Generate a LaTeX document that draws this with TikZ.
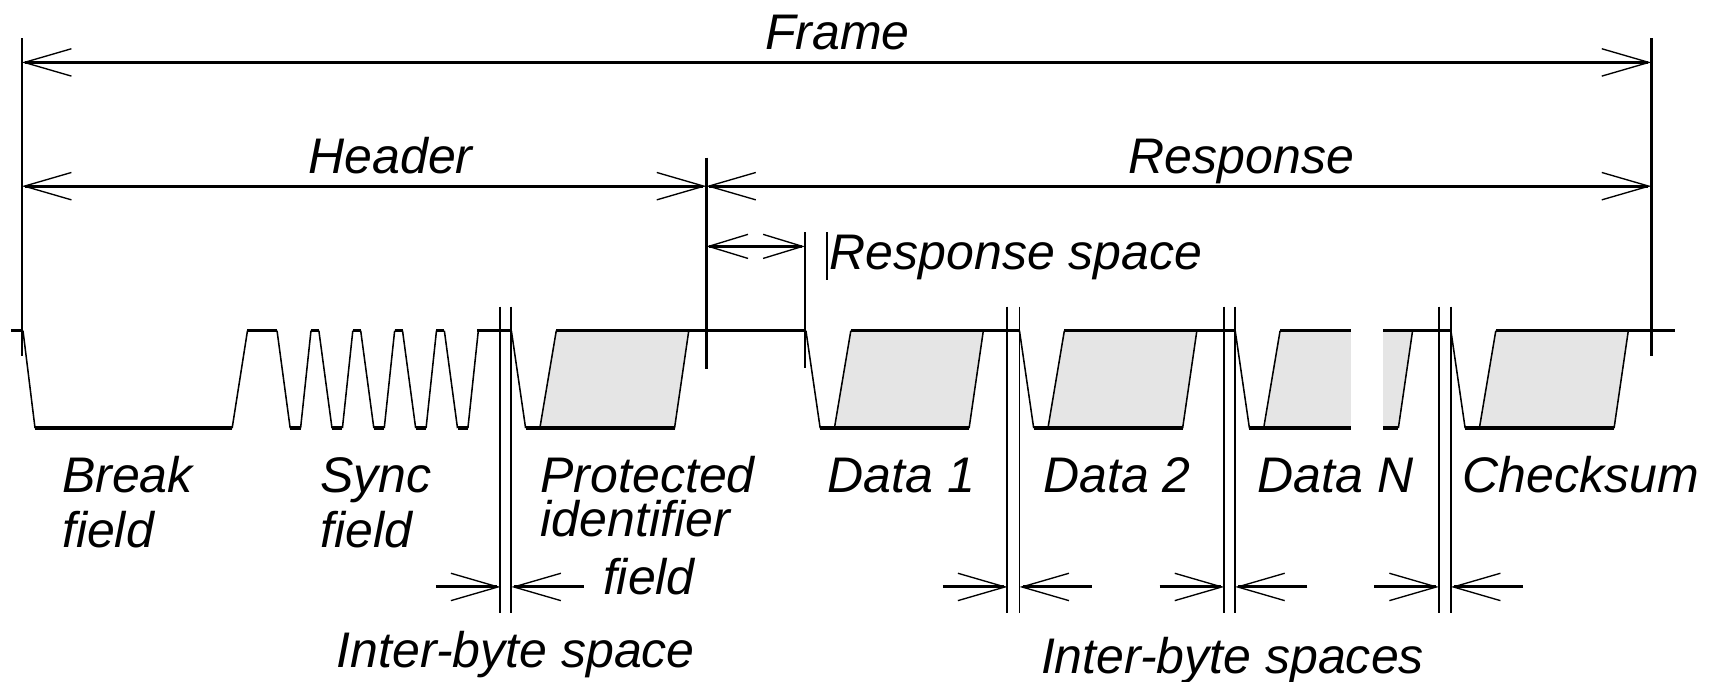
\documentclass[tikz,border=0pt]{standalone}
\usepackage{fontspec}
\setmainfont{Liberation Sans}
\usetikzlibrary{arrows.meta}
\definecolor{bitgray}{RGB}{229,229,229}

\tikzset{
  lbl/.style={anchor=base west, inner sep=0pt, font=\fontsize{13}{15}\selectfont\itshape},
  dim/.style={line width=0.7pt, <->},
  halfdim/.style={line width=0.8pt, ->},
  tick/.style={line width=0.7pt},
  thinline/.style={line width=0.4pt},
  level/.style={line width=0.9pt},
  edge/.style={line width=0.4pt},
  ibs/.style={line width=0.5pt}
}

\begin{document}
\begin{tikzpicture}[x=0.1mm, y=-0.1mm,
    >={Straight Barb[length=4.3mm, width=2.5mm, line width=0.35pt]}]
  \pgfmathsetmacro{\highY}{302}
  \pgfmathsetmacro{\lowY}{391}

  \useasboundingbox (0,0) rectangle (1568,622);

  % frame, header and response
  \coordinate (f1) at (20,57);
  \coordinate (f2) at (1508,57);
  \coordinate (h1) at (20,170);
  \coordinate (h2) at (645,170);
  \coordinate (r2) at (1508,170);
  \coordinate (s1) at (645,225);
  \coordinate (s2) at (735,225);
  \draw[dim] (f1) -- (f2);
  \draw[dim] (h1) -- (h2);
  \draw[dim] (h2) -- (r2);
  \draw[dim, >={Straight Barb[length=3.6mm, width=2.2mm, line width=0.35pt]}] (s1) -- (s2);

  \draw[tick] (20,35) -- (20,325);
  \draw[tick] (1508,35) -- (1508,325);
  \draw[tick] (645,144) -- (645,337);
  \draw[tick] (735,212) -- (735,336);
  \draw[thinline] (755,212) -- (755,256);

  % break field
  \draw[level] (10,\highY) -- (21,\highY);
  \draw[edge] (21,\highY) -- (32,\lowY);
  \draw[level] (32,\lowY) -- (212,\lowY);
  \draw[edge] (212,\lowY) -- (226,\highY);
  \draw[level] (226,\highY) -- (253,\highY);

  % sync field
  \foreach \k in {0,...,4}{
    \pgfmathsetmacro{\x}{253+38.2*\k}
    \draw[edge] (\x,\highY) -- (\x+12,\lowY);
    \draw[level] (\x+12,\lowY) -- (\x+21.5,\lowY);
    \draw[edge] (\x+21.5,\lowY) -- (\x+31,\highY);
    \draw[level] (\x+31,\highY) -- (\x+38.2,\highY);
  }
  \draw[level] (436,\highY) -- (467,\highY);

  % protected identifier, data and checksum bytes
  \foreach \s/\e in {467/736, 736/931, 931/1128, 1128/1325, 1325/1530}{
    \fill[bitgray] (\s+26,\lowY) -- (\s+41,\highY) -- (\s+162,\highY) -- (\s+149,\lowY) -- cycle;
    \draw[edge] (\s+26,\lowY) -- (\s+41,\highY);
    \draw[edge] (\s+162,\highY) -- (\s+149,\lowY);
    \draw[edge] (\s,\highY) -- (\s+13,\lowY);
    \draw[level] (\s+13,\lowY) -- (\s+149,\lowY);
    \draw[level] (\s+41,\highY) -- (\e,\highY);
  }
  % gap in data N
  \fill[white] (1234,295) rectangle (1263,398);

  % inter-byte spaces
  \foreach \a/\b in {457/467, 920/931, 1118/1128, 1314/1325}{
    \draw[ibs] (\a,280) -- (\a,560);
    \draw[ibs] (\b,280) -- (\b,560);
    \coordinate (L\a) at (\a-59,536);
    \coordinate (A\a) at (\a,536);
    \coordinate (B\b) at (\b,536);
    \coordinate (R\b) at (\b+66,536);
    \draw[halfdim] (L\a) -- (A\a);
    \draw[halfdim] (R\b) -- (B\b);
  }

  % labels
  \node[lbl] (frame) at (698,45) {Frame};
  \node[lbl] (header) at (281,158) {Header};
  \node[lbl] (response) at (1030,158) {Response};
  \node[lbl] (rspace) at (757,246) {Response space};
  \node[lbl] (break1) at (56,450) {Break};
  \node[lbl] (break2) at (56,500) {field};
  \node[lbl] (sync1) at (292,450) {Sync};
  \node[lbl] (sync2) at (292,500) {field};
  \node[lbl, text depth=0pt] (pid1) at (493,450) {Protected};
  \node[lbl] (pid2) at (493,490) {identifier};
  \node[lbl] (pid3) at (550,543) {field};
  \node[lbl] (data1) at (755,450) {Data 1};
  \node[lbl] (data2) at (952,450) {Data 2};
  \node[lbl] (dataN) at (1148,450) {Data N};
  \node[lbl] (chk) at (1335,450) {Checksum};
  \node[lbl] (ibs1) at (307,610) {Inter-byte space};
  \node[lbl] (ibs2) at (950,615) {Inter-byte spaces};

\end{tikzpicture}
\end{document}
